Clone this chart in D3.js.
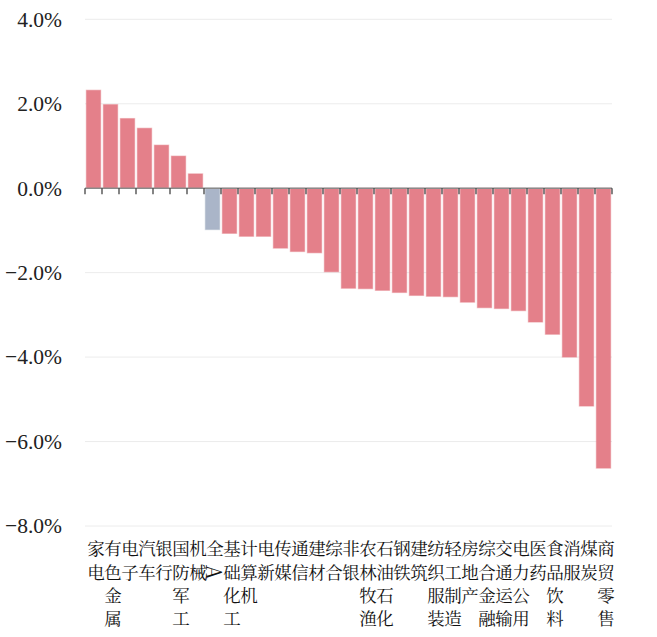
<!DOCTYPE html>
<html>
<head>
<meta charset="utf-8">
<script src="https://cdn.jsdelivr.net/npm/d3@7"></script>
<style>
  html, body { margin: 0; padding: 0; background: #fff; }
  svg { display: block; }
</style>
</head>
<body>
<div id="chart"></div>
<script>
// Industry returns (%), sorted from best to worst; "全A" is the market benchmark.
const categories = [
  "家电", "有色金属", "电子", "汽车", "银行", "国防军工", "机械", "全A",
  "基础化工", "计算机", "电新", "传媒", "通信", "建材", "综合", "非银",
  "农林牧渔", "石油石化", "钢铁", "建筑", "纺织服装", "轻工制造", "房地产",
  "综合金融", "交通运输", "电力公用", "医药", "食品饮料", "消服", "煤炭", "商贸零售"
];
const values = [
  2.32, 1.98, 1.65, 1.42, 1.02, 0.76, 0.34, -0.98,
  -1.07, -1.14, -1.14, -1.42, -1.50, -1.53, -1.98, -2.37,
  -2.38, -2.42, -2.47, -2.54, -2.56, -2.57, -2.70,
  -2.83, -2.85, -2.90, -3.17, -3.46, -4.00, -5.16, -6.63
];
const benchmark = "全A";
const yTicks = [-8, -6, -4, -2, 0, 2, 4];

const W = 657, H = 637;
const margin = { top: 19.3, right: 45, bottom: 111, left: 85 };
const plotW = W - margin.left - margin.right;
const plotH = H - margin.top - margin.bottom;

const svg = d3.select("#chart").append("svg")
  .attr("width", W).attr("height", H);
const g = svg.append("g").attr("transform", `translate(${margin.left},${margin.top})`);

const x = d3.scaleBand().domain(categories).range([0, plotW]).paddingInner(0.16).paddingOuter(0.08);
const y = d3.scaleLinear().domain([-8, 4]).range([plotH, 0]);

// horizontal grid lines
g.append("g").selectAll("line")
  .data(yTicks.filter(t => t !== 0))
  .join("line")
  .attr("x1", 0).attr("x2", plotW)
  .attr("y1", d => y(d)).attr("y2", d => y(d))
  .attr("stroke", "#ececec").attr("stroke-width", 1);

// y axis labels
const yAxis = d3.axisLeft(y).tickValues(yTicks).tickSize(0).tickPadding(23)
  .tickFormat(d => d3.format(".1f")(d) + "%");
g.append("g").call(yAxis)
  .call(a => a.select(".domain").remove())
  .selectAll("text")
  .style("font-family", "'Liberation Serif', 'Times New Roman', serif")
  .style("font-size", "21.5px")
  .attr("fill", "#222");

// bars
const data = categories.map((c, i) => ({ c, v: values[i] }));
g.append("g").selectAll("rect")
  .data(data)
  .join("rect")
  .attr("x", d => x(d.c))
  .attr("width", x.bandwidth())
  .attr("y", d => y(Math.max(0, d.v)))
  .attr("height", d => Math.abs(y(d.v) - y(0)))
  .attr("fill", d => d.c === benchmark ? "#aab5c8" : "#e4808a")
  .attr("stroke", d => d.c === benchmark ? "#aab5c8" : "#e4808a")
  .attr("stroke-opacity", 0.45)
  .attr("stroke-width", 1.2);

// zero axis with ticks on band boundaries
const boundaries = d3.range(categories.length + 1).map(i => i * plotW / categories.length);
const zeroY = y(0);
g.append("line")
  .attr("x1", 0).attr("x2", plotW)
  .attr("y1", zeroY).attr("y2", zeroY)
  .attr("stroke", "#8a8a8a").attr("stroke-width", 1.4);
g.append("g").selectAll("line")
  .data(boundaries)
  .join("line")
  .attr("x1", d => d).attr("x2", d => d)
  .attr("y1", zeroY).attr("y2", zeroY + 6)
  .attr("stroke", "#333").attr("stroke-width", 1.2);

// category labels, one character per line
const labelTop = plotH + 29.5;
const lineStep = 23.3;
const labels = g.append("g")
  .style("font-family", "'Noto Serif CJK SC', 'Noto Sans CJK SC', serif")
  .attr("font-size", 17.5)
  .attr("fill", "#111");
data.forEach(d => {
  const cx = x(d.c) + x.bandwidth() / 2 + 2.5;
  Array.from(d.c).forEach((ch, j) => {
    const cy = labelTop + j * lineStep;
    const t = labels.append("text")
      .attr("text-anchor", "middle")
      .text(ch);
    if (/[A-Za-z]/.test(ch)) {
      t.attr("font-size", 21)
       .attr("dominant-baseline", "central")
       .attr("transform", `translate(${cx},${cy - 6.5}) rotate(90)`);
    } else {
      t.attr("x", cx).attr("y", cy);
    }
  });
});
</script>
</body>
</html>
